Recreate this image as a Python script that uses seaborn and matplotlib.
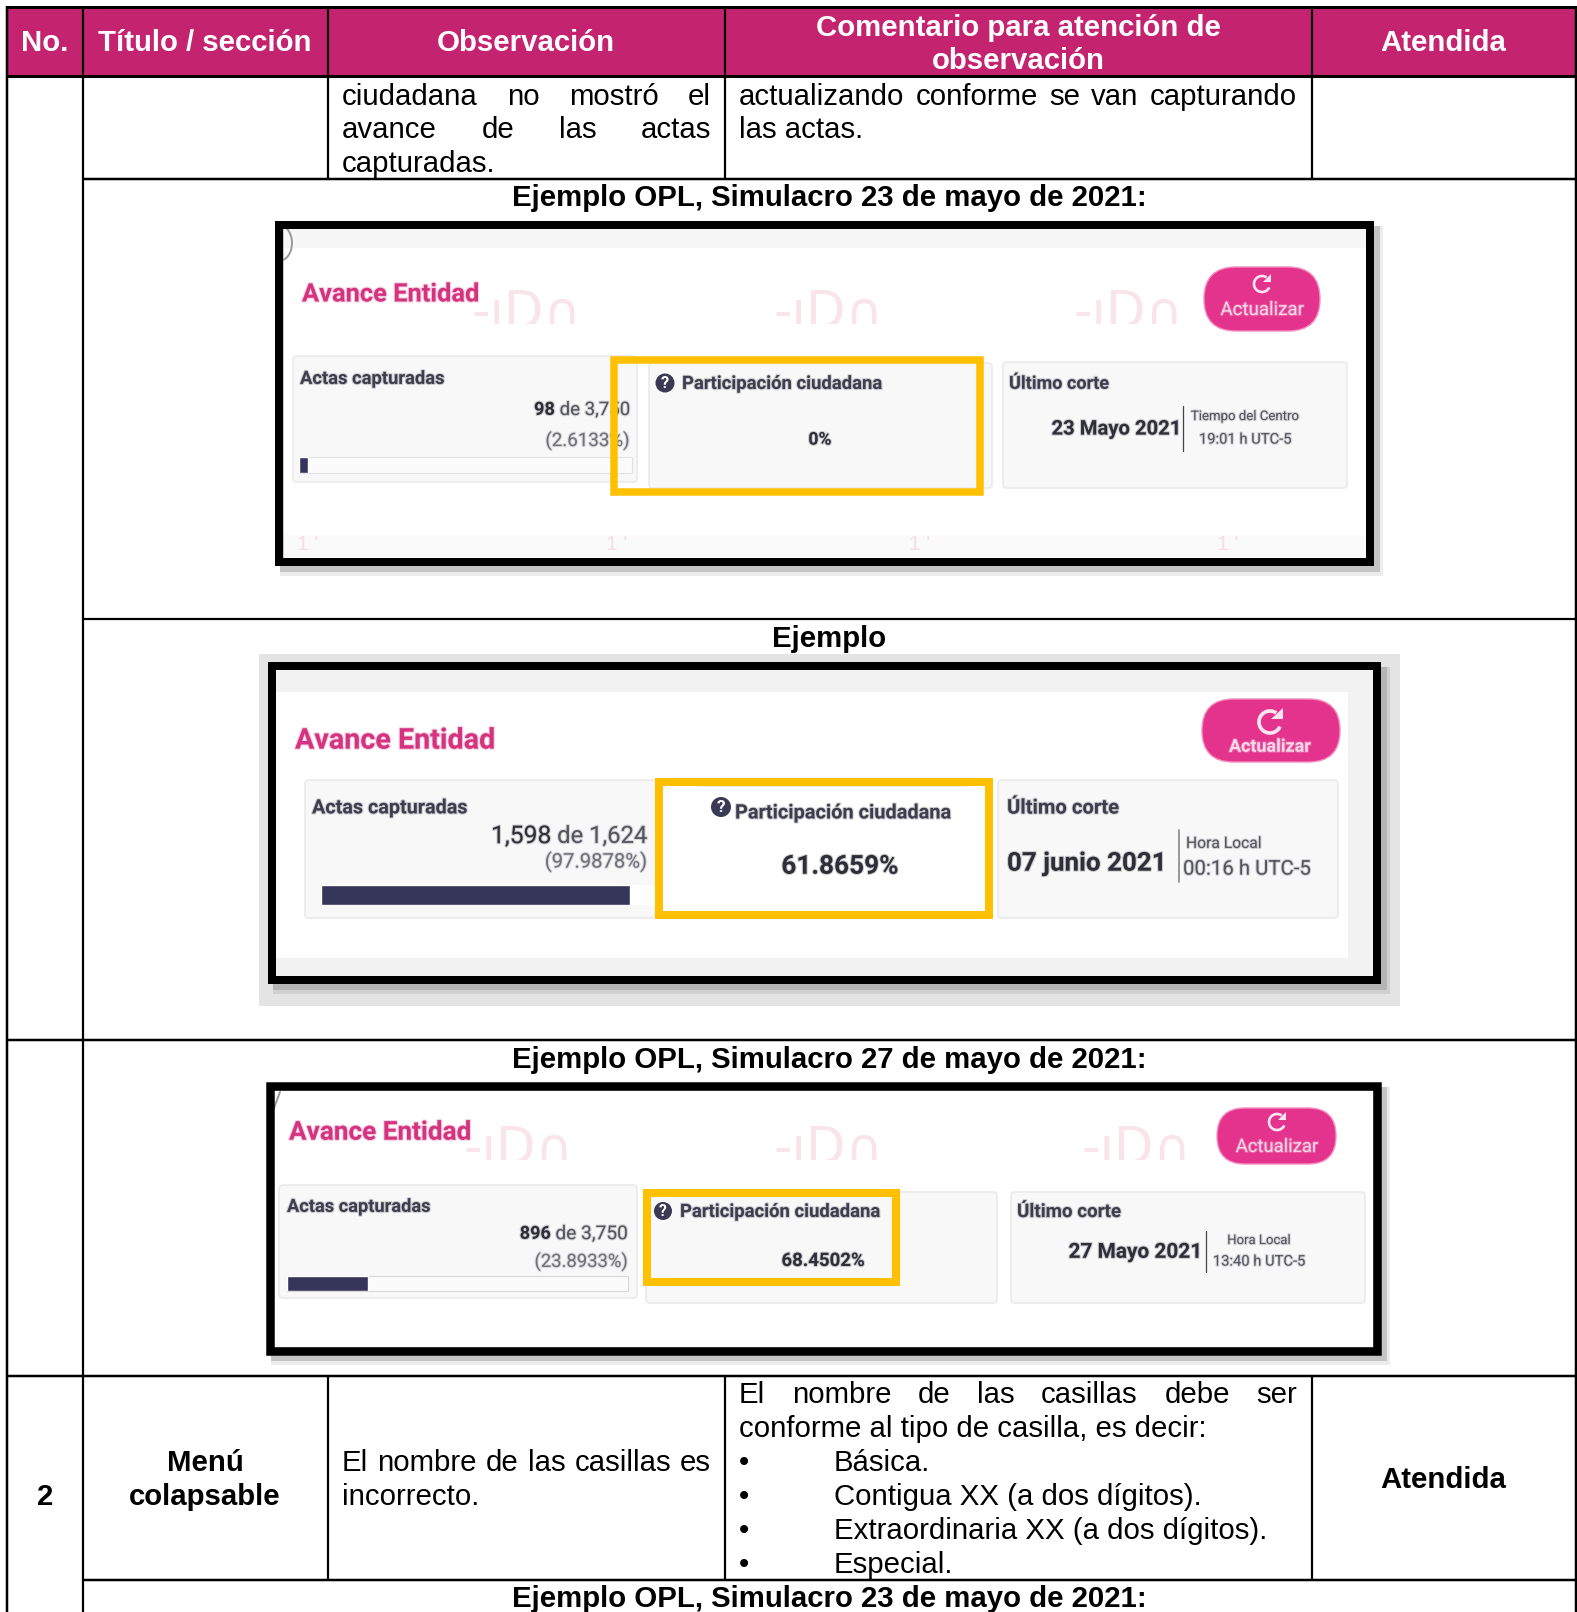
import matplotlib
matplotlib.use("Agg")
import matplotlib.pyplot as plt
from matplotlib.patches import Rectangle, FancyBboxPatch, Circle, Arc, Polygon
import matplotlib.patheffects as pe
import seaborn as sns

# datos de la tabla
headers = ["No.", "Título / sección", "Observación", "Atendida"]
header_comment = ["Comentario para atención de", "observación"]
obs_lines = ["ciudadana no mostró el", "avance de las actas", "capturadas."]
com_lines = ["actualizando conforme se van capturando", "las actas."]
titles = ["Ejemplo OPL, Simulacro 23 de mayo de 2021:", "Ejemplo",
          "Ejemplo OPL, Simulacro 27 de mayo de 2021:",
          "Ejemplo OPL, Simulacro 23 de mayo de 2021:"]
row2_title = ["Menú", "colapsable"]
row2_obs = ["El nombre de las casillas es", "incorrecto."]
row2_com = ["El nombre de las casillas debe ser", "conforme al tipo de casilla, es decir:"]
row2_bullets = ["Básica.", "Contigua XX (a dos dígitos).",
                "Extraordinaria XX (a dos dígitos).", "Especial."]

# datos de las capturas
actas_cap = ["98", "1,598", "896"]
actas_tot = ["3,750", "1,624", "3,750"]
pct_actas = [2.6133, 97.9878, 23.8933]
participacion = ["0%", "61.8659%", "68.4502%"]
fechas = ["23 Mayo 2021", "07 junio 2021", "27 Mayo 2021"]
zonas = ["Tiempo del Centro", "Hora Local", "Hora Local"]
horas = ["19:01 h UTC-5", "00:16 h UTC-5", "13:40 h UTC-5"]

sns.set_theme(style="white")
plt.rcParams["font.family"] = ["Liberation Sans", "DejaVu Sans"]

W, H = 1577, 1612
fig = plt.figure(figsize=(W / 100, H / 100), dpi=100, facecolor="white")
ax = fig.add_axes([0, 0, 1, 1])
ax.set_xlim(0, W)
ax.set_ylim(H, 0)
ax.axis("off")
renderer = fig.canvas.get_renderer()

MAGENTA = "#C4236F"
YELLOW = "#FFC000"
INK = "#3d3d4d"
PINK = "#D5337F"
BTN = "#E4338D"
BAR = "#36365A"
BODY = 21.15


def put(x, y, s, size=None, width=None, ha="left", color="black", weight="normal",
        family="Liberation Sans", z=3):
    t = ax.text(x, y, s, ha=ha, va="baseline", color=color, weight=weight,
                family=[family, "DejaVu Sans"], zorder=z, fontsize=size or 10)
    if width:
        size = 10 * width / t.get_window_extent(renderer).width
        t.set_fontsize(size)
    t.set_y(y + 0.36 * size / 0.72 - 0.7)
    if family == "Roboto":
        # las capturas estan borrosas
        t.set_path_effects([pe.withStroke(linewidth=1.6, foreground=color, alpha=0.22)])
    return t


def justified(text, x0, x1, y, size):
    # alinea las palabras de un renglón a los dos márgenes
    words = text.split(" ")
    ts = [put(x0, y, w, size) for w in words]
    ws = [t.get_window_extent(renderer).width for t in ts]
    gap = (x1 - x0 - sum(ws)) / (len(words) - 1)
    x = x0
    for t, w in zip(ts, ws):
        t.set_x(x)
        x += w + gap


def rect(x0, y0, x1, y1, fc, ec="none", lw=0, z=1):
    ax.add_patch(Rectangle((x0, y0), x1 - x0, y1 - y0, fc=fc, ec=ec, lw=lw, zorder=z))


def frame(x0, y0, x1, y1, t, color, z=4):
    # x0..y1 es el borde exterior, t el grosor en pixeles
    h = t / 2
    ax.add_patch(Rectangle((x0 + h, y0 + h), x1 - x0 - t, y1 - y0 - t, fill=False, ec=color,
                           lw=t * 0.72, joinstyle="miter", zorder=z))


def shadow(x0, y0, x1, y1, dark, light):
    rect(x0 + 5, y0 + 5, x1 + 9, y1 + 10, light, z=0.25)
    rect(x0 + 5, y0 + 5, x1 + 6, y1 + 6, dark, z=0.3)


def hline(x0, x1, y, lw=2.2):
    ax.plot([x0, x1], [y, y], color="black", lw=lw * 0.72, solid_capstyle="butt", zorder=6)


def vline(x, y0, y1, lw=2.2):
    ax.plot([x, x], [y0, y1], color="black", lw=lw * 0.72, solid_capstyle="butt", zorder=6)


def card(x0, y0, x1, y1, fc="#F8F8F9", ec="#EAEAEA"):
    ax.add_patch(FancyBboxPatch((x0, y0), x1 - x0, y1 - y0, boxstyle="round,pad=0,rounding_size=4",
                                fc=fc, ec=ec, lw=1.2, zorder=1.5))


def button(x0, y0, x1, y1, cx, y_icon, y_lab, lab_w, weight="normal", r_icon=9):
    r = (y1 - y0) / 2
    ax.add_patch(FancyBboxPatch((x0, y0), x1 - x0, y1 - y0, boxstyle="round,pad=0,rounding_size=%f" % r,
                                fc=BTN, ec="#F58CBE", lw=1, zorder=2))
    # icono de recargar
    c = "#FDE6F0"
    ax.add_patch(Arc((cx, y_icon), 2 * r_icon, 2 * r_icon, theta1=25, theta2=305, color=c, lw=r_icon * 0.24, zorder=3))
    ax.add_patch(Polygon([(cx + 1.15 * r_icon, y_icon - 1.3 * r_icon), (cx + 1.15 * r_icon, y_icon - 0.25 * r_icon),
                          (cx + 0.1 * r_icon, y_icon - 0.25 * r_icon)], fc=c, ec="none", zorder=3))
    put(cx, y_lab, "Actualizar", width=lab_w, ha="center", color="#FBD9E8", family="Roboto", weight=weight)


def qmark(cx, cy, r):
    ax.add_patch(Circle((cx, cy), r, fc="#3A3A55", ec="none", zorder=3))
    ax.text(cx, cy + 0.5, "?", color="white", ha="center", va="center", fontsize=r * 1.25,
            weight="bold", family="Roboto", zorder=3.5)


def progress(x0, x1, y0, y1, value):
    # barra de avance con las escalas de seaborn, 0 a 100
    bx = fig.add_axes([x0 / W, 1 - y1 / H, (x1 - x0) / W, (y1 - y0) / H], zorder=2)
    bx.patch.set_alpha(0)
    sns.barplot(x=[value], y=["actas"], color=BAR, width=1, saturation=1, orient="h", ax=bx)
    bx.set_xlim(0, 100)
    bx.set_ylim(0.5, -0.5)
    bx.axis("off")


def watermark(x, y, size=37):
    # marca de agua, cortada por abajo como en la captura
    t = ax.text(x, y, "-ıD∩", color="#F9E4EA", ha="center", va="center", fontsize=size,
                family="DejaVu Sans", zorder=1.2)
    t.set_clip_path(Rectangle((x - 80, y - 40), 160, 50, transform=ax.transData))
    t.set_clip_on(True)


def actas_text(i, x_r, y1, y2, w1, w2, weight="bold"):
    put(x_r, y2, "(" + ("%.4f" % pct_actas[i]) + "%)", width=w2, ha="right", color="#707078", family="Roboto")
    t2 = put(x_r, y1, " de " + actas_tot[i], width=w1[1], ha="right", color="#55555F", family="Roboto")
    x_b = x_r - t2.get_window_extent(renderer).width
    put(x_b, y1, actas_cap[i], width=w1[0], ha="right", color="#2E2E38", weight=weight, family="Roboto")


# cabecera
rect(7, 7, W, 76, MAGENTA)
for x, s in zip([45, 205, 526, 1443], headers):
    put(x, 41, s, BODY, ha="center", color="white", weight="bold")
put(1018, 26, header_comment[0], BODY, ha="center", color="white", weight="bold")
put(1018, 59, header_comment[1], BODY, ha="center", color="white", weight="bold")

# primera fila
justified(obs_lines[0], 342, 711, 95, BODY)
justified(obs_lines[1], 342, 711, 128, BODY)
put(342, 162, obs_lines[2], BODY)
justified(com_lines[0], 739, 1297, 95, BODY)
put(739, 128, com_lines[1], BODY)

for y, s in zip([196, 637, 1058, 1597], titles):
    put(829.5, y, s, BODY, ha="center", weight="bold")

# captura 1
shadow(275, 221, 1374, 566, "#C4C4C4", "#ECECEC")
rect(284, 228, 1366, 558, "white", z=0.5)
rect(284, 228, 1366, 248, "#F7F7F7", z=0.6)
rect(284, 535, 1366, 558, "#FAFAFA", z=0.6)
for x in [526, 828, 1128]:
    watermark(x, 314)
for x in [308, 617, 920, 1228]:
    ax.text(x, 544, "1 '", color="#F7DDE5", ha="center", va="center", fontsize=15, zorder=1.2)
ax.add_patch(Arc((279, 243), 26, 36, theta1=-90, theta2=90, color="#999999", lw=1.4, zorder=4))
put(302, 293, "Avance Entidad", width=178, color=PINK, weight="bold", family="Roboto")
card(293, 356, 637, 482)
put(300, 378, "Actas capturadas", width=145, color=INK, weight="bold", family="Roboto")
actas_text(0, 630, 409, 440, (21, 75), 84)
rect(299, 457, 632, 473, "#FBFBFB", ec="#E2E2E2", lw=0.8, z=1.7)
progress(299, 632, 457, 473, pct_actas[0])
card(649, 363, 992, 488)
qmark(665, 383, 9.5)
put(682, 383, "Participación ciudadana", width=201, color=INK, weight="bold", family="Roboto")
put(820, 439, participacion[0], width=23, ha="center", color="#2E2E38", weight="bold", family="Roboto")
card(1003, 362, 1347, 488)
put(1009, 383, "Último corte", width=100, color=INK, weight="bold", family="Roboto")
put(1181, 428, fechas[0], width=130, ha="right", color="#2E2E38", weight="bold", family="Roboto")
ax.plot([1183, 1183], [406, 451], color="#444444", lw=0.9, zorder=3)
put(1245, 416, zonas[0], width=108, ha="center", color="#55555F", family="Roboto")
put(1245, 439, horas[0], width=92, ha="center", color="#55555F", family="Roboto")
button(1204, 267, 1320, 331, 1262, 284, 309, 83, r_icon=8)
frame(275, 221, 1374, 566, 8, "black")
frame(610, 356, 984, 496, 7.5, YELLOW)

# captura 2
rect(259, 654, 1400, 1006, "#E4E4E4", z=0.2)
shadow(268, 662, 1381, 984, "#B4B4B4", "#D0D0D0")
rect(275, 669, 1373, 976, "white", z=0.5)
rect(275, 669, 1373, 692, "#F2F2F2", z=0.6)
rect(275, 958, 1373, 976, "#F2F2F2", z=0.6)
rect(1348, 669, 1373, 976, "#F2F2F2", z=0.6)
put(295, 739, "Avance Entidad", width=201, color=PINK, weight="bold", family="Roboto")
card(305, 780, 665, 918)
put(312, 807, "Actas capturadas", width=156, color=INK, weight="bold", family="Roboto")
actas_text(1, 647, 835, 861, (60, 96), 102, weight="normal")
rect(321, 885, 655, 905, "white", z=1.7)
progress(321, 636, 885, 905, pct_actas[1])
rect(662, 787, 985, 912, "white", z=1.6)
card(694, 787, 970, 912)
qmark(721, 807, 10)
put(735, 812, "Participación ciudadana", width=217, color=INK, weight="bold", family="Roboto")
put(840, 865, participacion[1], width=117, ha="center", color="#2E2E38", weight="bold", family="Roboto")
card(998, 780, 1338, 918)
put(1007, 807, "Último corte", width=112, color=INK, weight="bold", family="Roboto")
put(1007, 862, fechas[1], width=160, color="#2E2E38", weight="bold", family="Roboto")
ax.plot([1179, 1179], [830, 882], color="#888888", lw=1.2, zorder=3)
put(1186, 843, zonas[1], width=75, color="#55555F", family="Roboto")
put(1183, 868, horas[1], width=127, color="#55555F", family="Roboto")
button(1202, 699, 1340, 762, 1270, 722, 746, 82, weight="bold", r_icon=11)
frame(268, 662, 1381, 984, 8, "black")
frame(655, 778, 993, 919, 8, YELLOW)

# captura 3
shadow(266, 1082, 1381, 1355, "#C4C4C4", "#ECECEC")
rect(273, 1091, 1373, 1347, "white", z=0.5)
for x in [519, 828, 1136]:
    watermark(x, 1150)
ax.plot([274, 280], [1108, 1092], color="#999999", lw=1.4, zorder=4)
put(289, 1131, "Avance Entidad", width=183, color=PINK, weight="bold", family="Roboto")
card(279, 1185, 637, 1298)
put(287, 1206, "Actas capturadas", width=144, color=INK, weight="bold", family="Roboto")
actas_text(2, 628, 1233, 1261, (31, 77), 93)
rect(287, 1276, 628, 1291, "#FBFBFB", ec="#D8D8D8", lw=0.8, z=1.7)
progress(287, 628, 1276, 1291, pct_actas[2])
card(646, 1192, 997, 1303)
qmark(663, 1211, 9)
put(680, 1211, "Participación ciudadana", width=201, color=INK, weight="bold", family="Roboto")
put(823, 1260, participacion[2], width=83, ha="center", color="#2E2E38", weight="bold", family="Roboto")
card(1011, 1192, 1365, 1303)
put(1017, 1211, "Último corte", width=104, color=INK, weight="bold", family="Roboto")
put(1203, 1251, fechas[2], width=134, ha="right", color="#2E2E38", weight="bold", family="Roboto")
ax.plot([1206, 1206], [1231, 1272], color="#444444", lw=0.9, zorder=3)
put(1259, 1240, zonas[2], width=63, ha="center", color="#55555F", family="Roboto")
put(1259, 1261, horas[2], width=92, ha="center", color="#55555F", family="Roboto")
button(1217, 1108, 1336, 1164, 1277, 1122, 1146, 82, r_icon=8)
frame(266, 1082, 1381, 1355, 8.5, "black")
frame(643, 1189, 900, 1286, 8, YELLOW)

# fila 2
put(45, 1495, "2", BODY, ha="center", weight="bold")
put(205, 1461, row2_title[0], BODY, ha="center", weight="bold")
put(205, 1495, row2_title[1], BODY, ha="center", weight="bold")
justified(row2_obs[0], 342, 711, 1461, BODY)
put(342, 1495, row2_obs[1], BODY)
justified(row2_com[0], 739, 1297, 1393, BODY)
put(739, 1427, row2_com[1], BODY)
for y, s in zip([1461, 1495, 1529, 1563], row2_bullets):
    put(739, y, "•", BODY)
    put(834, y, s, BODY)
put(1443, 1478, "Atendida", BODY, ha="center", weight="bold")

# lineas de la tabla
vline(7, 6, H, 2.5)
vline(82.5, 6, H)
vline(1575.5, 6, H, 2.5)
for x in [328, 725, 1312]:
    vline(x, 6, 179)
    vline(x, 1376, 1580)
hline(6, W, 7, 3)
hline(6, W, 76, 3)
hline(82, W, 179, 2.5)
hline(82, W, 619)
hline(6, W, 1040, 2.5)
hline(6, W, 1376, 2.5)
hline(82, W, 1580, 2.5)

plt.savefig("out.png", dpi=100)
